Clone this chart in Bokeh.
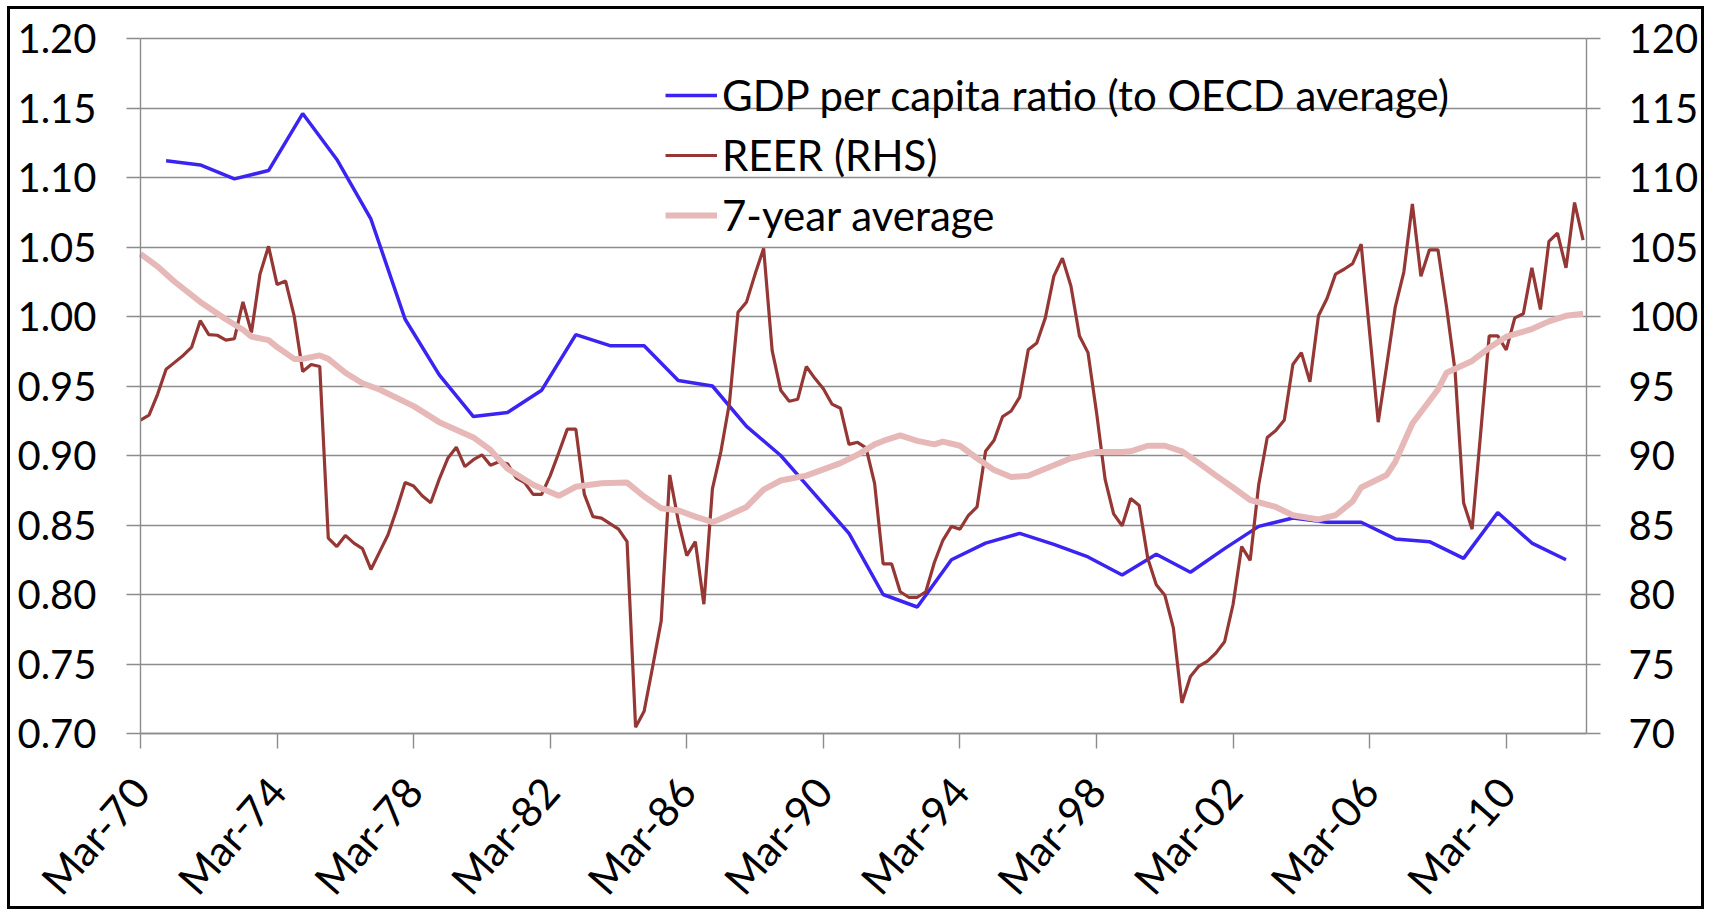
import numpy as np
from math import pi
from bokeh.plotting import figure
from bokeh.models import (Range1d, LinearAxis, FixedTicker, NumeralTickFormatter,
                          Legend, LegendItem)
from bokeh.embed import file_html
from bokeh.resources import INLINE

# ---------------- data ----------------
# GDP per capita ratio to OECD average, annual, plotted at December of each year
gdp_years = list(range(1970, 2012))
gdp_ratio = [1.112, 1.109, 1.099, 1.105, 1.146, 1.113, 1.070, 0.998, 0.958, 0.928,
             0.931, 0.947, 0.987, 0.979, 0.979, 0.954, 0.950, 0.921, 0.900, 0.872,
             0.844, 0.800, 0.791, 0.825, 0.837, 0.844, 0.836, 0.827, 0.814, 0.829,
             0.816, 0.833, 0.849, 0.855, 0.852, 0.852, 0.840, 0.838, 0.826, 0.859,
             0.837, 0.825]

# REER (RHS), quarterly from Mar-70 to Jun-12
reer_start = "Mar-70"
reer = [92.55, 92.9, 94.4, 96.2, 96.7, 97.2, 97.8, 99.7, 98.7, 98.65,
        98.3, 98.4, 101.05, 98.85, 103.05, 105.05, 102.3, 102.55, 100.05, 96.05,
        96.55, 96.4, 84.05, 83.45, 84.25, 83.7, 83.3, 81.8, 83.05, 84.3,
        86.1, 88.05, 87.8, 87.1, 86.6, 88.3, 89.8, 90.6, 89.2, 89.7,
        90.05, 89.3, 89.55, 89.4, 88.4, 88.05, 87.2, 87.2, 88.55, 90.2,
        91.9, 91.9, 87.2, 85.6, 85.5, 85.1, 84.7, 83.8, 70.45, 71.6,
        74.8, 78.1, 88.6, 85.3, 82.8, 83.8, 79.3, 87.6, 90.3, 93.8,
        100.3, 101.05, 103.05, 104.9, 97.55, 94.7, 93.9, 94.05, 96.4, 95.55,
        94.8, 93.7, 93.4, 90.8, 90.95, 90.55, 88.0, 82.2, 82.2, 80.2,
        79.8, 79.8, 80.2, 82.3, 83.9, 84.9, 84.7, 85.7, 86.3, 90.3,
        91.1, 92.8, 93.2, 94.2, 97.6, 98.1, 99.9, 102.9, 104.2, 102.2,
        98.6, 97.4, 93.1, 88.3, 85.8, 84.95, 86.9, 86.4, 82.6, 80.7,
        79.95, 77.6, 72.2, 74.1, 74.85, 75.2, 75.8, 76.6, 79.3, 83.45,
        82.45, 87.9, 91.3, 91.8, 92.55, 96.55, 97.4, 95.3, 100.05, 101.3,
        103.05, 103.4, 103.8, 105.2, 98.8, 92.4, 96.5, 100.7, 103.2, 108.1,
        102.9, 104.8, 104.8, 100.7, 96.1, 86.6, 84.7, 91.6, 98.6, 98.6,
        97.6, 99.9, 100.2, 103.5, 100.5, 105.4, 106.0, 103.5, 108.2, 105.5]

# 7-year average of REER, read at these quarters (counted from Mar-70)
avg_quarters = [0, 2, 4, 7, 10, 12, 13, 15, 16, 18, 19, 21, 22, 24, 26, 28, 32, 35, 39, 41,
                43, 46, 49, 51, 54, 57, 59, 61, 63, 65, 67, 68, 71, 73, 75, 78, 82, 84, 86, 87,
                89, 91, 93, 94, 96, 98, 100, 102, 104, 106, 109, 112, 115, 116, 118, 120, 122, 124, 126, 128,
                130, 133, 135, 138, 140, 142, 143, 146, 147, 149, 152, 153, 156, 158, 160, 163, 165, 167, 169]
avg_values = [104.5, 103.6, 102.5, 101.05, 99.8, 99.05, 98.55, 98.3, 97.8, 96.95, 96.95, 97.2, 96.95, 95.95, 95.2, 94.75, 93.55, 92.4, 91.3, 90.4,
              89.05, 87.9, 87.1, 87.75, 88.0, 88.05, 87.05, 86.2, 86.05, 85.6, 85.2, 85.45, 86.3, 87.55, 88.2, 88.55, 89.45, 90.05, 90.8, 91.05,
              91.45, 91.05, 90.8, 91.0, 90.7, 89.8, 88.95, 88.45, 88.55, 89.05, 89.8, 90.25, 90.25, 90.3, 90.7, 90.7, 90.3, 89.45, 88.55, 87.7,
              86.8, 86.3, 85.7, 85.4, 85.7, 86.7, 87.7, 88.6, 89.55, 92.3, 94.75, 95.95, 96.8, 97.75, 98.55, 99.1, 99.65, 100.05, 100.2]

x_tick_labels = ["Mar-70", "Mar-74", "Mar-78", "Mar-82", "Mar-86", "Mar-90",
                 "Mar-94", "Mar-98", "Mar-02", "Mar-06", "Mar-10"]
left_ticks = [0.70, 0.75, 0.80, 0.85, 0.90, 0.95, 1.00, 1.05, 1.10, 1.15, 1.20]
right_ticks = [70, 75, 80, 85, 90, 95, 100, 105, 110, 115, 120]
legend_labels = ["GDP per capita ratio (to OECD average)", "REER (RHS)", "7-year average"]

# ---------------- derived positions (quarter index from Mar-70) ----------------
gdp_x = [(y - 1970) * 4 + 3 for y in gdp_years]           # December of each year
reer_x = list(range(len(reer)))
x_ticks = [i * 16 for i in range(len(x_tick_labels))]       # every four years
X_END = 169.4                                               # end of the date axis

# ---------------- layout geometry (pixels) ----------------
# The frame covers the whole canvas; axes are pinned at the plot-area edges so
# that nothing (tick labels included) is clipped.
W_TOTAL, H_TOTAL = 1697, 903
PLOT_W, PLOT_H = 1446, 695          # plot area: Mar-70..end, 0.70..1.20
PAD_L, PAD_T = 130, 29
PAD_R = W_TOTAL - PAD_L - PLOT_W
PAD_B = H_TOTAL - PAD_T - PLOT_H
lo_l, hi_l = left_ticks[0], left_ticks[-1]
lo_r, hi_r = right_ticks[0], right_ticks[-1]
sx = PLOT_W / X_END
kl = PLOT_H / (hi_l - lo_l)
kr = PLOT_H / (hi_r - lo_r)

# ---------------- styling ----------------
FONT = "Lato"
GRID = "#8c8c8c"
BLUE = "#3b24f2"
RED = "#953735"
PINK = "#e6b9b8"

p = figure(width=W_TOTAL, height=H_TOTAL, output_backend="svg", toolbar_location=None,
           x_range=Range1d(-PAD_L / sx, X_END + PAD_R / sx),
           y_range=Range1d(lo_l - PAD_B / kl, hi_l + PAD_T / kl),
           min_border_left=0, min_border_right=0, min_border_top=0,
           min_border_bottom=0, background_fill_color="white",
           border_fill_color="white")
p.title.visible = False
p.styles = {"border": "3px solid #000000", "margin": "6px 0px 0px 7px"}
p.outline_line_color = None
p.xgrid.visible = False

g = p.ygrid[0]
if "cross_bounds" in g.properties():
    g.ticker = FixedTicker(ticks=left_ticks)
    g.cross_bounds = (0, X_END)
    g.grid_line_color = GRID
    g.grid_line_width = 1.4
else:
    g.visible = False
    p.segment(x0=[0] * len(left_ticks), x1=[X_END] * len(left_ticks),
              y0=left_ticks, y1=left_ticks, line_color=GRID, line_width=1.4,
              level="underlay")

def style_axis(ax):
    ax.axis_line_color = GRID
    ax.axis_line_width = 1.4
    ax.major_tick_line_color = GRID
    ax.major_tick_line_width = 1.4
    ax.major_tick_in = 0
    ax.major_tick_out = 14
    ax.minor_tick_line_color = None
    ax.major_label_text_font = FONT
    ax.major_label_text_font_size = "40px"
    ax.major_label_text_color = "#000000"

yl = p.yaxis[0]
yl.ticker = FixedTicker(ticks=left_ticks)
yl.formatter = NumeralTickFormatter(format="0.00")
yl.bounds = (lo_l, hi_l)
yl.fixed_location = 0
style_axis(yl)
yl.major_label_standoff = 30

p.extra_y_ranges = {"reer": Range1d(lo_r - PAD_B / kr, hi_r + PAD_T / kr)}
yr = LinearAxis(y_range_name="reer", ticker=FixedTicker(ticks=right_ticks))
yr.bounds = (lo_r, hi_r)
yr.fixed_location = X_END
style_axis(yr)
yr.major_label_standoff = 28
p.add_layout(yr, "right")

xa = p.xaxis[0]
xa.ticker = FixedTicker(ticks=x_ticks)
xa.major_label_overrides = {t: lab for t, lab in zip(x_ticks, x_tick_labels)}
xa.bounds = (0, X_END)
xa.fixed_location = lo_l
style_axis(xa)
xa.major_tick_out = 15
xa.major_label_orientation = 0.85
xa.major_label_text_font_size = "42px"
xa.major_label_standoff = 35

r_gdp = p.line(gdp_x, gdp_ratio, line_color=BLUE, line_width=3.5)
r_reer = p.line(reer_x, reer, y_range_name="reer", line_color=RED, line_width=3.2)
r_avg = p.line(avg_quarters, avg_values, y_range_name="reer", line_color=PINK, line_width=6)

legend = Legend(items=[LegendItem(label=legend_labels[0], renderers=[r_gdp]),
                       LegendItem(label=legend_labels[1], renderers=[r_reer]),
                       LegendItem(label=legend_labels[2], renderers=[r_avg])],
                location=(PAD_L + 525, PAD_B + 488), padding=0, spacing=0, margin=0,
                glyph_width=52, glyph_height=60, label_height=60, label_standoff=5,
                label_text_font=FONT, label_text_font_size="42px",
                label_text_color="#000000",
                border_line_color=None, background_fill_alpha=0)
p.add_layout(legend)

open("out.html", "w").write(file_html(p, INLINE))
